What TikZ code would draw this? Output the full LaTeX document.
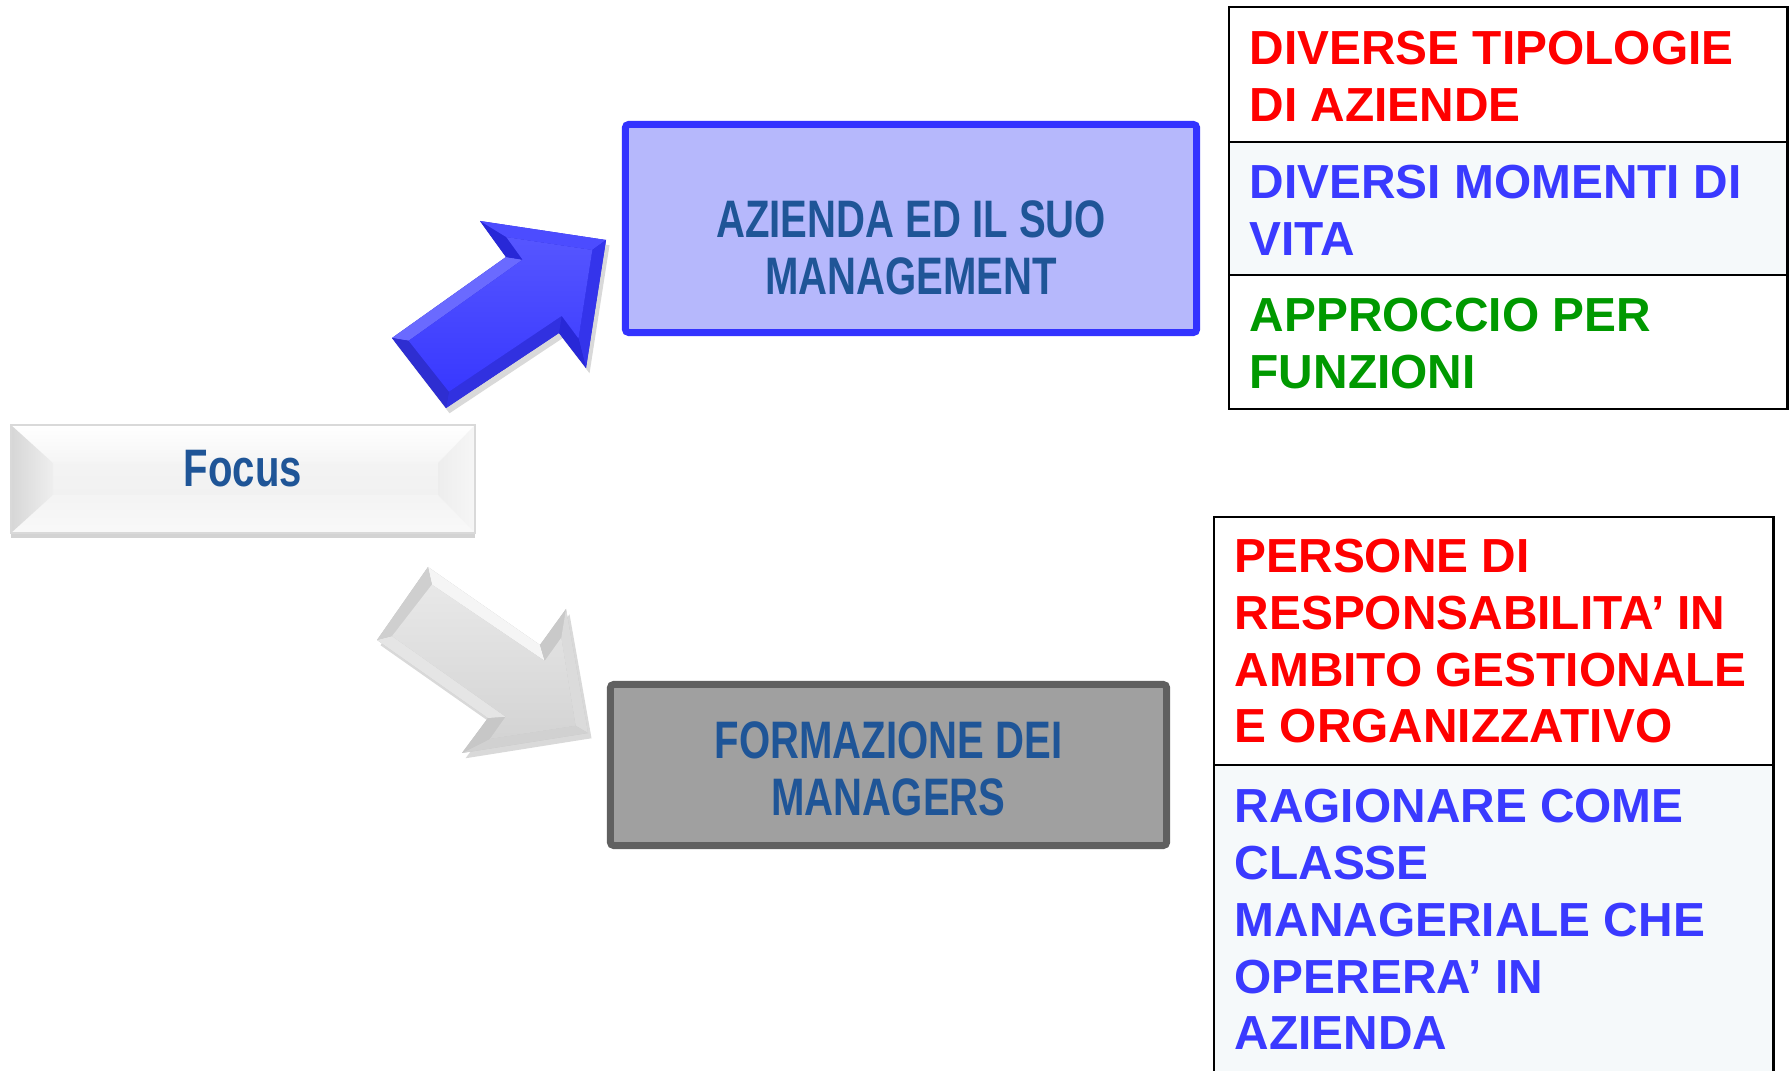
\documentclass[tikz,border=0pt]{standalone}
\usepackage{fontspec}
\setmainfont{Liberation Sans}
\newfontfamily\narrowfont[FakeStretch=0.76]{Liberation Sans}
\usetikzlibrary{shapes,arrows,positioning,calc,shadows}
\definecolor{focusblue}{RGB}{31,85,151}
\definecolor{boxblue}{RGB}{182,184,252}
\definecolor{edgeblue}{RGB}{51,51,255}
\definecolor{boxgray}{RGB}{160,160,160}
\definecolor{edgegray}{RGB}{96,96,96}
\definecolor{txtred}{RGB}{255,0,0}
\definecolor{txtblue}{RGB}{58,58,255}
\definecolor{txtgreen}{RGB}{0,153,0}
\definecolor{rowtint}{RGB}{245,249,250}
\definecolor{arrowblue}{RGB}{56,56,255}
\definecolor{arrowbluedark}{RGB}{40,40,215}

\tikzset{
  cell/.style={draw=black, line width=0.8pt, rectangle, outer sep=0pt, inner sep=0pt, anchor=north west, minimum width=5.58cm},
  celltxt/.style={anchor=west, align=left, inner sep=0pt, font=\bfseries\fontsize{13.6}{16.2}\selectfont},
  boxtxt/.style={align=center, inner sep=0pt, text=focusblue, font=\narrowfont\bfseries\fontsize{15}{16.2}\selectfont},
  mainbox/.style={rectangle, line width=2pt, rounded corners=1pt, outer sep=0pt},
  arrowshadow/.style={drop shadow={shadow xshift=1pt, shadow yshift=-1.5pt, opacity=0.3}}
}

\begin{document}
\begin{tikzpicture}[x=0.01cm, y=-0.01cm]
    \useasboundingbox (0,0) rectangle (1792,1071);

    % Focus button
    \fill[white, drop shadow={shadow xshift=0pt, shadow yshift=-1.5pt, opacity=0.35}] (11,425) rectangle (475,533);
    \shade[top color=white, bottom color=gray!8] (11,425) -- (475,425) -- (438,463) -- (53,463) -- cycle;
    \shade[top color=gray!9, bottom color=gray!11] (53,463) rectangle (438,495);
    \shade[top color=gray!9, bottom color=gray!5] (53,495) -- (438,495) -- (475,533) -- (11,533) -- cycle;
    \shade[left color=gray!32, right color=gray!13] (11,425) -- (53,463) -- (53,495) -- (11,533) -- cycle;
    \shade[left color=gray!14, right color=gray!7] (475,425) -- (438,463) -- (438,495) -- (475,533) -- cycle;
    \draw[gray!30, line width=0.4pt] (11,425) rectangle (475,533);
    \node[boxtxt] (focus) at (243,469) {Focus};

    % Blue arrow
    \coordinate (ba1) at (392,338); \coordinate (ba2) at (506,257); \coordinate (ba3) at (480,221);
    \coordinate (ba4) at (606,240); \coordinate (ba5) at (586,368); \coordinate (ba6) at (559,333);
    \coordinate (ba7) at (446,408);
    \coordinate (bb1) at (408.6,340.8); \coordinate (bb2) at (522.6,259.7); \coordinate (bb3) at (506.3,237.1);
    \coordinate (bb4) at (592.3,250); \coordinate (bb5) at (578.5,338.5); \coordinate (bb6) at (561.7,315.9);
    \coordinate (bb7) at (448.9,391.7);
    \fill[arrowbluedark, arrowshadow] (ba1) -- (ba2) -- (ba3) -- (ba4) -- (ba5) -- (ba6) -- (ba7) -- cycle;
    \foreach \i/\j/\c in {1/2/arrowblue!75!white, 2/3/arrowbluedark, 3/4/arrowblue!90!white,
                          4/5/arrowblue!92!black, 5/6/arrowbluedark, 6/7/arrowblue!88!black, 7/1/arrowblue!82!black}
        \fill[\c] (ba\i) -- (ba\j) -- (bb\j) -- (bb\i) -- cycle;
    \shade[top color=arrowblue!85!white, bottom color=arrowblue]
        (bb1) -- (bb2) -- (bb3) -- (bb4) -- (bb5) -- (bb6) -- (bb7) -- cycle;

    % Gray arrow
    \coordinate (ga1) at (428,567); \coordinate (ga2) at (540,645); \coordinate (ga3) at (566,609);
    \coordinate (ga4) at (588,733); \coordinate (ga5) at (462,753); \coordinate (ga6) at (488,718);
    \coordinate (ga7) at (377,640);
    \coordinate (gb1) at (431.9,584.6); \coordinate (gb2) at (544.7,660.9); \coordinate (gb3) at (561.3,637.7);
    \coordinate (gb4) at (575.6,725.7); \coordinate (gb5) at (489.9,738.9); \coordinate (gb6) at (505.6,716.7);
    \coordinate (gb7) at (392,636.1);
    \fill[gray!45, arrowshadow] (ga1) -- (ga2) -- (ga3) -- (ga4) -- (ga5) -- (ga6) -- (ga7) -- cycle;
    \foreach \i/\j/\c in {1/2/gray!8, 2/3/gray!42, 3/4/gray!28, 4/5/gray!36,
                          5/6/gray!44, 6/7/gray!20, 7/1/gray!38}
        \fill[\c] (ga\i) -- (ga\j) -- (gb\j) -- (gb\i) -- cycle;
    \shade[top color=gray!18, bottom color=gray!34]
        (gb1) -- (gb2) -- (gb3) -- (gb4) -- (gb5) -- (gb6) -- (gb7) -- cycle;

    % Boxes
    \node[mainbox, draw=edgeblue, fill=boxblue, minimum width=5.71cm, minimum height=2.08cm] (azienda) at (911,228.5) {};
    \node[boxtxt] (aziendatxt) at ([yshift=-0.19cm]azienda.center) {AZIENDA ED IL SUO\\MANAGEMENT};

    \node[mainbox, draw=edgegray, fill=boxgray, minimum width=5.56cm, minimum height=1.61cm] (formazione) at (888.5,765) {};
    \node[boxtxt] (formazionetxt) at ([yshift=-0.04cm]formazione.center) {FORMAZIONE DEI\\MANAGERS};

    % Upper table
    \node[cell, minimum height=1.35cm] (c1a) at (1229,7) {};
    \node[cell, fill=rowtint, minimum height=1.33cm] (c1b) at (1229,142) {};
    \node[cell, minimum height=1.34cm] (c1c) at (1229,275) {};
    \node[celltxt, text=txtred] (t1a) at ([xshift=0.2cm, yshift=-0.015cm]c1a.west) {DIVERSE TIPOLOGIE\\DI AZIENDE};
    \node[celltxt, text=txtblue] (t1b) at ([xshift=0.2cm, yshift=-0.015cm]c1b.west) {DIVERSI MOMENTI DI\\VITA};
    \node[celltxt, text=txtgreen] (t1c) at ([xshift=0.2cm, yshift=-0.015cm]c1c.west) {APPROCCIO PER\\FUNZIONI};

    % Lower table
    \node[cell, minimum width=5.59cm, minimum height=2.48cm] (c2a) at (1214,517) {};
    \node[cell, fill=rowtint, minimum width=5.59cm, minimum height=3.2cm] (c2b) at (1214,765) {};
    \node[celltxt, text=txtred] (t2a) at ([xshift=0.2cm]c2a.west) {PERSONE DI\\RESPONSABILITA’ IN\\AMBITO GESTIONALE\\E ORGANIZZATIVO};
    \node[celltxt, text=txtblue, anchor=north west] (t2b) at (1234,788) {RAGIONARE COME\\CLASSE\\MANAGERIALE CHE\\OPERERA’ IN\\AZIENDA};
\end{tikzpicture}
\end{document}
